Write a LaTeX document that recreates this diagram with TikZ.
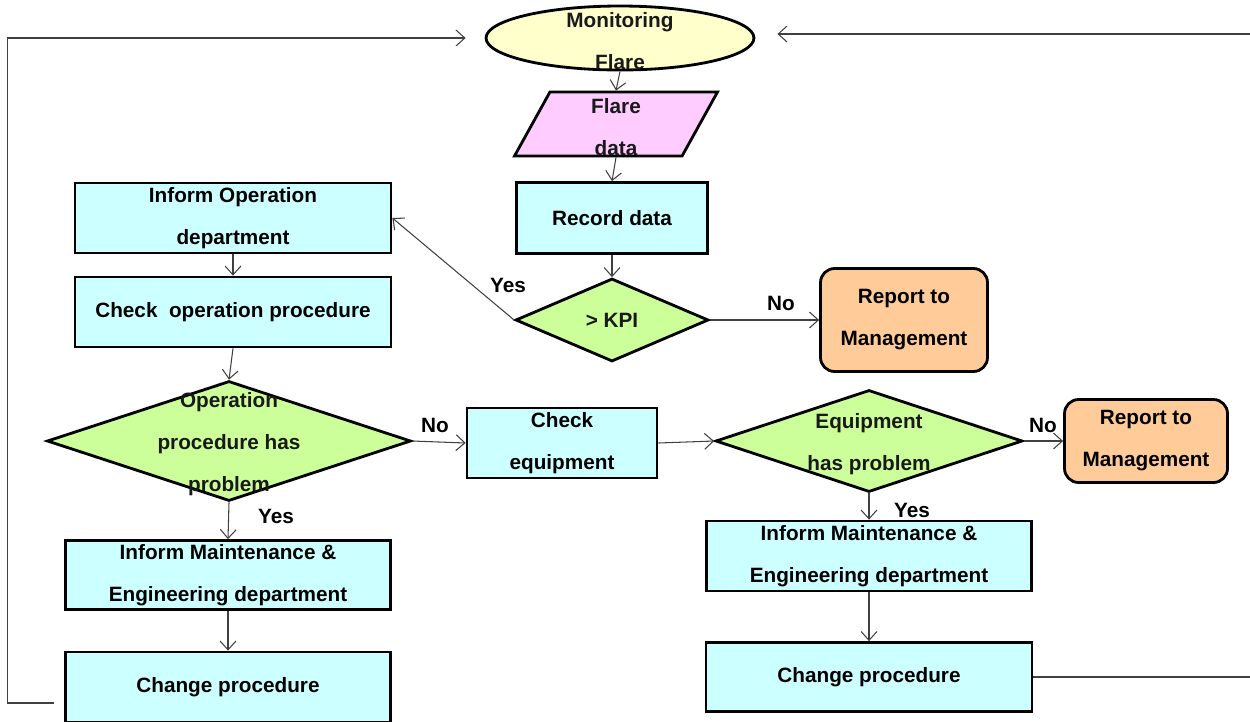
\documentclass[tikz,border=0pt]{standalone}
\usepackage{fontspec}
\setmainfont{Liberation Sans}
\usetikzlibrary{shapes.geometric, arrows.meta}

\definecolor{boxcyan}{HTML}{CCFFFF}
\definecolor{decgreen}{HTML}{CCFF99}
\definecolor{termyellow}{HTML}{FFFFCC}
\definecolor{iopink}{HTML}{FFCCFF}
\definecolor{reporange}{HTML}{FFCC99}
\definecolor{linegray}{HTML}{404040}

\newcommand{\boxfont}{\bfseries\fontsize{11.8}{23.9}\selectfont}

\tikzset{
  every label/.style={font=\boxfont, align=center, inner sep=0pt, text=black!90, yshift=-0.06cm},
  proc/.style={draw, line width=1.6pt, fill=boxcyan, rectangle, align=center, font=\boxfont, inner sep=1pt},
  report/.style={draw, line width=1.6pt, fill=reporange, rectangle, rounded corners=8pt, align=center, font=\boxfont, inner sep=1pt},
  decide/.style={draw, line width=1.6pt, fill=decgreen, diamond, inner sep=0pt},
  term/.style={draw, line width=1.6pt, fill=termyellow, ellipse, inner sep=0pt},
  io/.style={draw, line width=1.6pt, fill=iopink, trapezium, trapezium left angle=75, trapezium right angle=105, trapezium stretches=true, inner sep=3pt},
  flow/.style={->, draw=linegray, line width=0.6pt},
  answer/.style={font=\boxfont, inner sep=0pt}
}

\begin{document}
\begin{tikzpicture}[x=0.02cm, y=-0.02cm, >={Straight Barb[length=5pt,width=9pt]}]
\useasboundingbox (0,0) rectangle (1250,721);

% top of the flow
\node[term, minimum width=5.36cm, minimum height=1.28cm, label=center:Monitoring\\Flare] (mon) at (620,38) {};
\node[io, minimum width=4.06cm, minimum height=1.28cm, label=center:Flare\\data] (fdata) at (616,124) {};
\node[proc, minimum width=3.82cm, minimum height=1.42cm] (rec) at (612,218) {Record data};
\node[decide, minimum width=3.86cm, minimum height=1.66cm, label={[yshift=0.06cm]center:> KPI}] (kpi) at (612,320) {};
\node[report, minimum width=3.34cm, minimum height=2.06cm] (rep1) at (904,320) {Report to\\Management};

% operation branch
\node[proc, minimum width=6.32cm, minimum height=1.4cm] (infop) at (233,218) {Inform Operation\\department};
\node[proc, minimum width=6.32cm, minimum height=1.4cm] (chkop) at (233,312) {Check~ operation procedure};
\node[decide, minimum width=7.28cm, minimum height=2.4cm, label=center:Operation\\procedure has\\problem] (opdec) at (229,441) {};
\node[proc, minimum width=6.5cm, minimum height=1.38cm] (infml) at (228,575) {Inform Maintenance \&\\Engineering department};
\node[proc, minimum width=6.5cm, minimum height=1.4cm] (chgl) at (228,687) {Change procedure};

% equipment branch
\node[proc, minimum width=3.8cm, minimum height=1.4cm] (chkeq) at (562,443) {Check\\equipment};
\node[decide, minimum width=6.14cm, minimum height=2.04cm, label=center:Equipment\\has problem] (eqdec) at (869,441) {};
\node[report, minimum width=3.26cm, minimum height=1.66cm] (rep2) at (1146,441) {Report to\\Management};
\node[proc, minimum width=6.5cm, minimum height=1.4cm] (infmr) at (869,556) {Inform Maintenance \&\\Engineering department};
\node[proc, minimum width=6.52cm, minimum height=1.38cm] (chgr) at (869,677) {Change procedure};

% answers
\node[answer] (yes1) at (508,285) {Yes};
\node[answer] (no1) at (781,303) {No};
\node[answer] (no2) at (435,425) {No};
\node[answer] (yes2) at (276,516) {Yes};
\node[answer] (no3) at (1043,425) {No};
\node[answer] (yes3) at (912,510) {Yes};

% connectors
\draw[flow] (mon.south) -- (fdata.north);
\draw[flow] (fdata.south) -- (rec.north);
\draw[flow] (rec.south) -- (kpi.north);
\draw[flow] (kpi.west) -- (infop.east);
\draw[flow] (kpi.east) -- (rep1.west);
\draw[flow] (infop.south) -- (chkop.north);
\draw[flow] (chkop.south) -- (opdec.north);
\draw[flow] (opdec.east) -- (chkeq.west);
\draw[flow] (opdec.south) -- (infml.north);
\draw[flow] (infml.south) -- (chgl.north);
\draw[flow] (chkeq.east) -- (eqdec.west);
\draw[flow] (eqdec.east) -- (rep2.west);
\draw[flow] (eqdec.south) -- (infmr.north);
\draw[flow] (infmr.south) -- (chgr.north);

% loops back to monitoring
\draw[flow, shorten <=0.2cm, shorten >=0.38cm] ([yshift=-0.32cm]chgl.west) -- ++(-57,0) |- (mon.west);
\draw[flow, shorten >=0.44cm] (chgr.east) -- ++(240,0) |- ([yshift=0.08cm]mon.east);
\end{tikzpicture}
\end{document}
